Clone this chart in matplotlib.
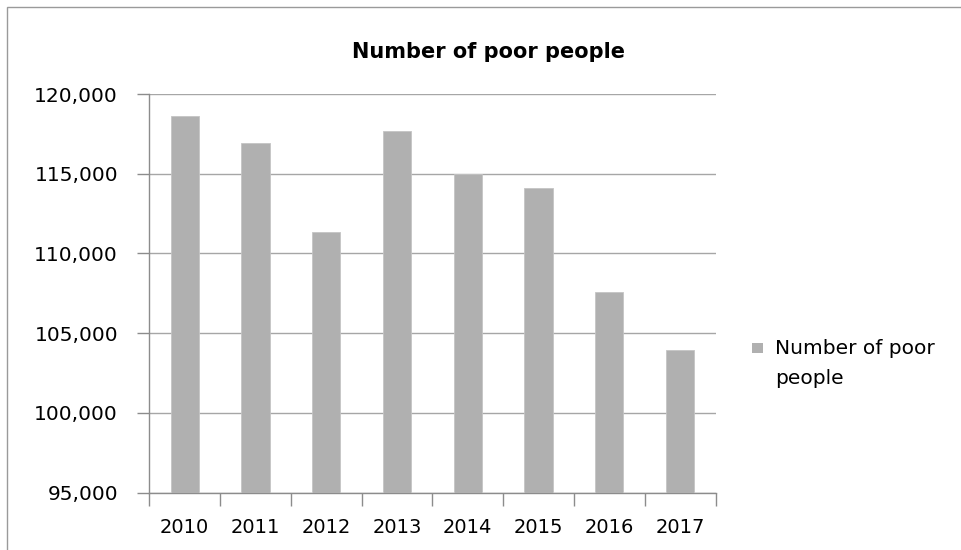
import textwrap
import matplotlib
matplotlib.use("Agg")
import matplotlib.pyplot as plt
from matplotlib.patches import Rectangle
from matplotlib.ticker import FuncFormatter, FixedLocator

years = ["2010", "2011", "2012", "2013", "2014", "2015", "2016", "2017"]
poor_people = [118600, 116950, 111350, 117700, 115000, 114100, 107560, 103960]
series_name = "Number of poor people"

BAR_COLOR = "#b0b0b0"
AXIS_COLOR = "#8c8c8c"

plt.rcParams["font.family"] = ["DejaVu Sans"]

fig = plt.figure(figsize=(9.61, 5.5), dpi=100)
fig.patch.set_facecolor("white")

# outer chart border (top and left edges visible)
fig.patches.append(Rectangle((7.3 / 961, -0.05), 1.2, 1 - 6.7 / 550 + 0.05,
                             transform=fig.transFigure, fill=False,
                             edgecolor="#9a9a9a", linewidth=1.0))

ax = fig.add_axes([149.3 / 961, 1 - 492.7 / 550, (715.5 - 149.3) / 961, (492.7 - 94) / 550])

x = range(len(years))
ax.bar(x, poor_people, width=0.4, color=BAR_COLOR, edgecolor="#c4c4c4",
       linewidth=0.6, zorder=3)

ax.set_xlim(-0.5, len(years) - 0.5)
ax.set_ylim(95000, 120000)
ax.set_yticks(range(95000, 120001, 5000))
ax.yaxis.set_major_formatter(FuncFormatter(lambda v, p: f"{int(v):,}"))
ax.set_xticks(list(x))
ax.set_xticklabels(years)
ax.xaxis.set_minor_locator(FixedLocator([i - 0.5 for i in range(len(years) + 1)]))

ax.grid(axis="y", color="#a6a6a6", linewidth=1.0, zorder=0)
for side in ("top", "right"):
    ax.spines[side].set_visible(False)
for side in ("left", "bottom"):
    ax.spines[side].set_color(AXIS_COLOR)
    ax.spines[side].set_linewidth(1.0)

ax.tick_params(axis="x", which="major", length=0, pad=18, labelsize=14, colors="black")
ax.tick_params(axis="x", which="minor", length=9, color=AXIS_COLOR, width=1.0)
ax.tick_params(axis="y", which="major", length=8.5, color=AXIS_COLOR, width=1.0,
               pad=14, labelsize=14.5, labelcolor="black")

fig.text(488.5 / 961, 1 - 58.5 / 550, series_name, ha="center", va="baseline",
         fontsize=15, fontweight="bold")

# legend entry: grey square key with the wrapped series name beside it
fig.patches.append(Rectangle((752 / 961, 1 - 353 / 550), 10.5 / 961, 10.5 / 550,
                             transform=fig.transFigure, facecolor=BAR_COLOR,
                             edgecolor="none"))
for i, line in enumerate(textwrap.wrap(series_name, 14)):
    fig.text(775 / 961, 1 - (354.5 + 30 * i) / 550, line, ha="left", va="baseline",
             fontsize=14.5)

fig.savefig("out.png", dpi=100, facecolor="white")
